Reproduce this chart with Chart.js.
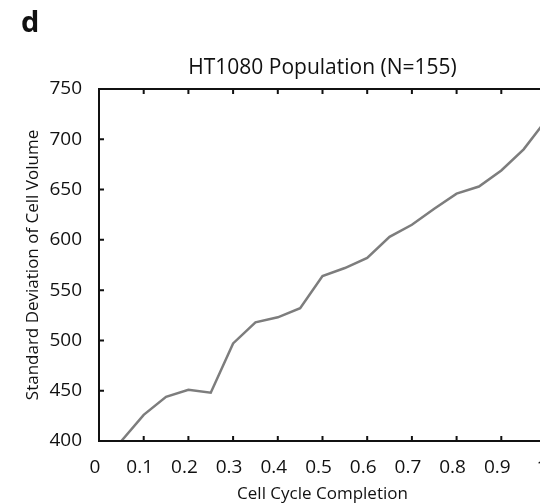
<!DOCTYPE html>
<html>
<head>
<meta charset="utf-8">
<script src="https://cdn.jsdelivr.net/npm/chart.js@4"></script>
<style>
  html, body { margin: 0; padding: 0; background: #fff; overflow: hidden; }
  #wrap { position: relative; width: 560px; height: 504px; }
  #panel { position: absolute; left: 21px; top: 1px; font: bold 29px "Open Sans", sans-serif; color: #111; }
</style>
</head>
<body>
<div id="wrap">
  <canvas id="graph" width="560" height="504"></canvas>
  <div id="panel">d</div>
</div>
<script>
const completion = [0.05, 0.1, 0.15, 0.2, 0.25, 0.3, 0.35, 0.4, 0.45, 0.5,
                    0.55, 0.6, 0.65, 0.7, 0.75, 0.8, 0.85, 0.9, 0.95, 1.0];
const stdVolume = [400, 426, 444, 451, 448, 497, 518, 523, 532, 564,
                   572, 582, 603, 615, 631, 646, 653, 669, 690, 719];
const xTicks = [0, 0.1, 0.2, 0.3, 0.4, 0.5, 0.6, 0.7, 0.8, 0.9, 1];
const yTicks = [400, 450, 500, 550, 600, 650, 700, 750];

const FONT = '"Open Sans", sans-serif';

// box round the plot, inward tick marks on all four sides, title over the plot
const frame = {
    id: 'frame',
    afterDraw(chart) {
        const ctx = chart.ctx;
        const a = chart.chartArea;
        const xs = chart.scales.x, ys = chart.scales.y;
        ctx.save();
        ctx.strokeStyle = '#111';
        ctx.lineWidth = 2;
        ctx.strokeRect(a.left, a.top, a.right - a.left, a.bottom - a.top);
        ctx.beginPath();
        xTicks.forEach(v => {
            const px = xs.getPixelForValue(v);
            ctx.moveTo(px, a.bottom); ctx.lineTo(px, a.bottom - 5);
            ctx.moveTo(px, a.top); ctx.lineTo(px, a.top + 5);
        });
        yTicks.forEach(v => {
            const py = ys.getPixelForValue(v);
            ctx.moveTo(a.left, py); ctx.lineTo(a.left + 5, py);
            ctx.moveTo(a.right, py); ctx.lineTo(a.right - 5, py);
        });
        ctx.stroke();
        ctx.fillStyle = '#111';
        ctx.font = '21px ' + FONT;
        ctx.textAlign = 'center';
        ctx.textBaseline = 'middle';
        ctx.fillText('HT1080 Population (N=155)', (a.left + a.right) / 2, a.top - 21);
        ctx.restore();
    }
};

new Chart(document.getElementById('graph'), {
    type: 'line',
    data: {
        labels: completion,
        datasets: [{
            data: completion.map((c, i) => ({x: c, y: stdVolume[i]})),
            borderColor: '#7d7d7d',
            borderWidth: 2.5,
            pointRadius: 0,
            tension: 0
        }]
    },
    options: {
        responsive: false,
        animation: false,
        layout: { padding: { top: 89, right: 14, left: 0, bottom: 0 } },
        plugins: { legend: { display: false }, tooltip: { enabled: false } },
        scales: {
            x: {
                type: 'linear',
                min: 0, max: 1,
                afterBuildTicks: s => { s.ticks = xTicks.map(v => ({value: v})); },
                afterFit: s => { s.height = 63; },
                grid: { display: false },
                border: { display: false },
                ticks: { color: '#111', font: { family: FONT, size: 19 }, padding: 7, maxRotation: 0,
                         labelOffset: -4,
                         callback: v => String(Math.round(v * 10) / 10) },
                title: { display: true, text: 'Cell Cycle Completion', color: '#111',
                         font: { family: FONT, size: 17 }, padding: { top: 0, bottom: 0 } }
            },
            y: {
                min: 400, max: 750,
                afterBuildTicks: s => { s.ticks = yTicks.map(v => ({value: v})); },
                afterFit: s => { s.width = 99; },
                grid: { display: false },
                border: { display: false },
                ticks: { color: '#111', font: { family: FONT, size: 19 }, padding: 9 },
                title: { display: true, text: 'Standard Deviation of Cell Volume', color: '#111',
                         font: { family: FONT, size: 17 }, padding: { top: 23, bottom: 0 } }
            }
        }
    },
    plugins: [frame]
});
</script>
</body>
</html>
